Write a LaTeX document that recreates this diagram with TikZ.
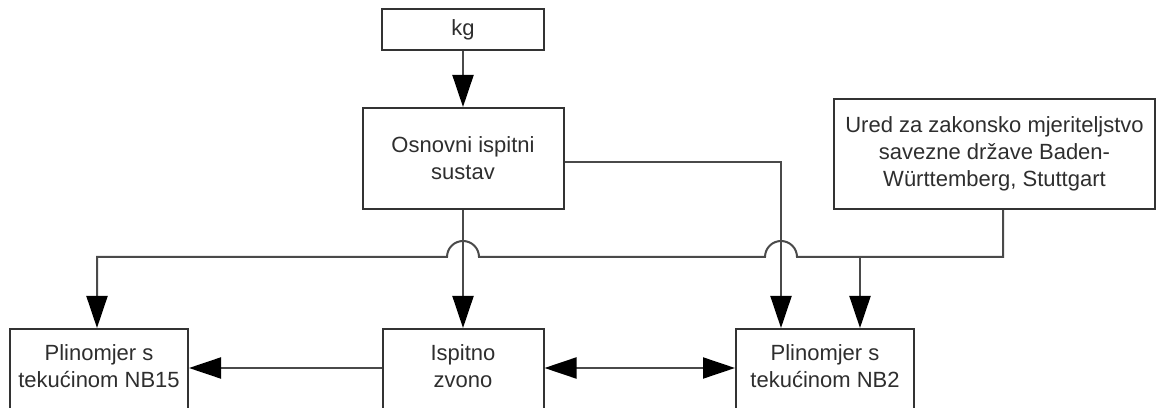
\documentclass[tikz,border=0pt]{standalone}
\usepackage{fontspec}
\setmainfont{Liberation Sans}
\usetikzlibrary{arrows.meta,calc}
\definecolor{boxline}{HTML}{333333}
\definecolor{conline}{HTML}{4A4A4A}
\definecolor{txt}{HTML}{2E2E2E}
\tikzset{
  box/.style={draw=boxline, line width=2pt, rectangle, inner sep=0pt},
  lbl/.style={text=txt, align=center, inner sep=0pt, font=\fontsize{22}{27}\selectfont},
  conn/.style={draw=conline, line width=2pt},
  tip/.style={},
  arr/.style={conn, -{Triangle[length=32pt,width=21pt,fill=black,color=black]}},
  darr/.style={conn, {Triangle[length=32pt,width=21pt,fill=black,color=black]}-{Triangle[length=32pt,width=21pt,fill=black,color=black]}}
}
\begin{document}
\begin{tikzpicture}[x=1pt,y=1pt]
\useasboundingbox (0,0) rectangle (1159,407);
\clip (0,0) rectangle (1159,407);
% top boxes
\node[box, lbl, minimum width=162pt, minimum height=41pt] (kg) at (463,377.5) {kg};
\node[box, lbl, minimum width=201pt, minimum height=101pt] (osn) at (463,248.5) {Osnovni ispitni\\sustav};
\node[box, lbl, minimum width=321pt, minimum height=110pt] (ured) at (994.5,253) {Ured za zakonsko mjeriteljstvo\\savezne države Baden-\\Württemberg, Stuttgart};
% bottom boxes (extend past lower edge)
\node[box, minimum width=178pt, minimum height=120pt, anchor=north] (nb15) at (99,79) {};
\node[box, minimum width=161pt, minimum height=120pt, anchor=north] (isp) at (463,79) {};
\node[box, minimum width=178pt, minimum height=120pt, anchor=north] (nb2) at (825,79) {};
\node[lbl] (nb15t) at (99,41) {Plinomjer s\\tekućinom NB15};
\node[lbl] (ispt) at (463,41) {Ispitno\\zvono};
\node[lbl] (nb2t) at (825,41) {Plinomjer s\\tekućinom NB2};
% helper coordinates
\coordinate (jL) at (97,150);
\coordinate (j1) at (463,150);
\coordinate (j2) at (781,150);
\coordinate (br) at (860,150);
\coordinate (jR) at (1003,150);
\coordinate (h) at (0,39);
\coordinate (oR) at (0,245);
% connectors
\draw[arr] (kg.south) -- (osn.north);
\draw[arr] (osn.south) -- (isp.north);
\draw[arr] (osn.east |- oR) -| (nb2.north -| j2);
\draw[arr] (ured.south -| jR) -- (jR) -- ([xshift=16pt]j2)
  arc[start angle=0,end angle=180,radius=16pt] -- ([xshift=16pt]j1)
  arc[start angle=0,end angle=180,radius=16pt] -- (jL) -- (nb15.north -| jL);
\draw[arr] (br) -- (nb2.north -| br);
\draw[arr] (isp.west |- h) -- (nb15.east |- h);
\draw[darr] (isp.east |- h) -- (nb2.west |- h);
\end{tikzpicture}
\end{document}
